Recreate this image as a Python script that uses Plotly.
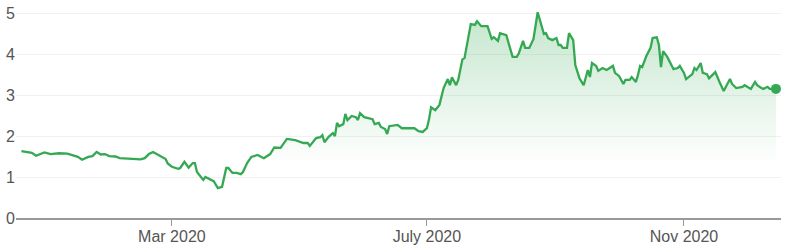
import plotly.graph_objects as go

dates = [
    "2019-12-20", "2019-12-22", "2019-12-25", "2019-12-27", "2019-12-31",
    "2020-01-03", "2020-01-07", "2020-01-11", "2020-01-13", "2020-01-16",
    "2020-01-18", "2020-01-21", "2020-01-23", "2020-01-25", "2020-01-27",
    "2020-01-29", "2020-01-31", "2020-02-03", "2020-02-05", "2020-02-10",
    "2020-02-15", "2020-02-17", "2020-02-19", "2020-02-21", "2020-02-24",
    "2020-02-27", "2020-02-28", "2020-03-01", "2020-03-04", "2020-03-05",
    "2020-03-07", "2020-03-09", "2020-03-11", "2020-03-12", "2020-03-13",
    "2020-03-16", "2020-03-17", "2020-03-19", "2020-03-21", "2020-03-23",
    "2020-03-25", "2020-03-27", "2020-03-28", "2020-03-30", "2020-04-01",
    "2020-04-03", "2020-04-04", "2020-04-06", "2020-04-08", "2020-04-11",
    "2020-04-14", "2020-04-17", "2020-04-19", "2020-04-22", "2020-04-25",
    "2020-04-29", "2020-05-03", "2020-05-05", "2020-05-06", "2020-05-09",
    "2020-05-11", "2020-05-12", "2020-05-13", "2020-05-15", "2020-05-17",
    "2020-05-18", "2020-05-19", "2020-05-20", "2020-05-22", "2020-05-23",
    "2020-05-24", "2020-05-26", "2020-05-28", "2020-05-29", "2020-05-30",
    "2020-06-01", "2020-06-05", "2020-06-06", "2020-06-08", "2020-06-09",
    "2020-06-11", "2020-06-12", "2020-06-13", "2020-06-17", "2020-06-19",
    "2020-06-21", "2020-06-25", "2020-06-27", "2020-06-29", "2020-07-01",
    "2020-07-02", "2020-07-03", "2020-07-05", "2020-07-07", "2020-07-09",
    "2020-07-11", "2020-07-12", "2020-07-13", "2020-07-15", "2020-07-16",
    "2020-07-18", "2020-07-19", "2020-07-22", "2020-07-24", "2020-07-25",
    "2020-07-27", "2020-07-30", "2020-08-01", "2020-08-02", "2020-08-04",
    "2020-08-05", "2020-08-08", "2020-08-11", "2020-08-13", "2020-08-14",
    "2020-08-16", "2020-08-17", "2020-08-19", "2020-08-21", "2020-08-23",
    "2020-08-24", "2020-08-26", "2020-08-27", "2020-08-28", "2020-08-30",
    "2020-09-01", "2020-09-02", "2020-09-03", "2020-09-04", "2020-09-06",
    "2020-09-07", "2020-09-09", "2020-09-10", "2020-09-12", "2020-09-14",
    "2020-09-16", "2020-09-17", "2020-09-18", "2020-09-20", "2020-09-21",
    "2020-09-23", "2020-09-25", "2020-09-28", "2020-09-29", "2020-10-01",
    "2020-10-03", "2020-10-04", "2020-10-06", "2020-10-07", "2020-10-09",
    "2020-10-10", "2020-10-11", "2020-10-12", "2020-10-14", "2020-10-16",
    "2020-10-17", "2020-10-19", "2020-10-20", "2020-10-21", "2020-10-22",
    "2020-10-24", "2020-10-27", "2020-10-29", "2020-10-30", "2020-11-01",
    "2020-11-02", "2020-11-05", "2020-11-06", "2020-11-07", "2020-11-09",
    "2020-11-10", "2020-11-12", "2020-11-13", "2020-11-16", "2020-11-18",
    "2020-11-20", "2020-11-23", "2020-11-24", "2020-11-26", "2020-11-29",
    "2020-11-30", "2020-12-03", "2020-12-05", "2020-12-06", "2020-12-08",
    "2020-12-09", "2020-12-11", "2020-12-12", "2020-12-15",
]

values = [
    1.63, 1.61, 1.59, 1.52, 1.60,
    1.56, 1.58, 1.57, 1.54, 1.49,
    1.42, 1.49, 1.51, 1.61, 1.55,
    1.56, 1.51, 1.50, 1.46, 1.44,
    1.43, 1.46, 1.56, 1.61, 1.52,
    1.44, 1.33, 1.25, 1.20, 1.22,
    1.37, 1.23, 1.34, 1.34, 1.12,
    0.93, 1.00, 0.95, 0.90, 0.73,
    0.76, 1.22, 1.22, 1.10, 1.10,
    1.07, 1.12, 1.34, 1.49, 1.54,
    1.46, 1.56, 1.72, 1.71, 1.93,
    1.90, 1.83, 1.83, 1.76, 1.95,
    1.97, 2.02, 1.85, 1.98, 2.07,
    2.00, 2.32, 2.24, 2.29, 2.54,
    2.39, 2.49, 2.46, 2.39, 2.56,
    2.46, 2.41, 2.29, 2.32, 2.22,
    2.17, 2.05, 2.24, 2.27, 2.19,
    2.19, 2.19, 2.12, 2.10, 2.19,
    2.40, 2.70, 2.63, 2.76, 3.17,
    3.39, 3.24, 3.43, 3.24, 3.37,
    3.87, 3.90, 4.73, 4.71, 4.80,
    4.68, 4.68, 4.37, 4.41, 4.32,
    4.51, 4.46, 3.93, 3.93, 4.02,
    4.32, 4.15, 4.15, 4.37, 5.02,
    4.83, 4.49, 4.51, 4.39, 4.34,
    4.39, 4.22, 4.22, 4.15, 4.15,
    4.51, 4.34, 3.73, 3.41, 3.24,
    3.61, 3.44, 3.78, 3.71, 3.59,
    3.66, 3.61, 3.71, 3.54, 3.46,
    3.27, 3.37, 3.37, 3.44, 3.32,
    3.49, 3.71, 3.68, 3.95, 4.15,
    4.39, 4.41, 4.22, 3.68, 4.07,
    3.93, 3.63, 3.66, 3.71, 3.54,
    3.39, 3.51, 3.66, 3.61, 3.78,
    3.54, 3.51, 3.41, 3.56, 3.32,
    3.10, 3.39, 3.27, 3.17, 3.20,
    3.24, 3.15, 3.32, 3.24, 3.17,
    3.15, 3.20, 3.15, 3.15,
]

x_tick_vals = ["2020-03-01", "2020-07-01", "2020-11-01"]
x_tick_text = ["Mar 2020", "July 2020", "Nov 2020"]
y_tick_vals = [0, 1, 2, 3, 4, 5]

GREEN = "#34a853"
FONT = "Arial, 'Liberation Sans', sans-serif"

fig = go.Figure()
fig.add_trace(go.Scatter(
    x=dates, y=values, mode="lines",
    line=dict(color=GREEN, width=2.3),
    fill="tozeroy",
    fillgradient=dict(
        type="vertical",
        colorscale=[[0, "rgba(52,168,83,0)"], [1, "rgba(52,168,83,0.28)"]],
        start=1.3, stop=4.9,
    ),
    hoverinfo="skip",
    cliponaxis=False,
))
fig.add_trace(go.Scatter(
    x=[dates[-1]], y=[values[-1]], mode="markers",
    marker=dict(color=GREEN, size=10),
    hoverinfo="skip",
    cliponaxis=False,
))

fig.update_layout(
    width=792, height=252,
    margin=dict(l=16, r=11, t=11, b=34),
    paper_bgcolor="white", plot_bgcolor="white",
    showlegend=False,
    font=dict(family=FONT, size=16, color="#555"),
)
fig.update_xaxes(
    type="date",
    range=["2019-12-17 10:00", "2020-12-17 10:00"],
    tickvals=x_tick_vals, ticktext=x_tick_text,
    ticks="outside", ticklen=6, tickcolor="#999", tickwidth=1,
    ticklabelstandoff=-3,
    showline=True, linecolor="#999", linewidth=1.5,
    showgrid=False, zeroline=False,
    tickfont=dict(size=16, color="#555"),
    automargin=False,
)
fig.update_yaxes(
    range=[0, 5.05],
    tickvals=y_tick_vals,
    showgrid=True, gridcolor="#f1f1f1", gridwidth=1,
    zeroline=False, showline=False, ticks="",
    tickfont=dict(size=16, color="#555"),
    automargin=False,
)

fig.write_html("out.html")
